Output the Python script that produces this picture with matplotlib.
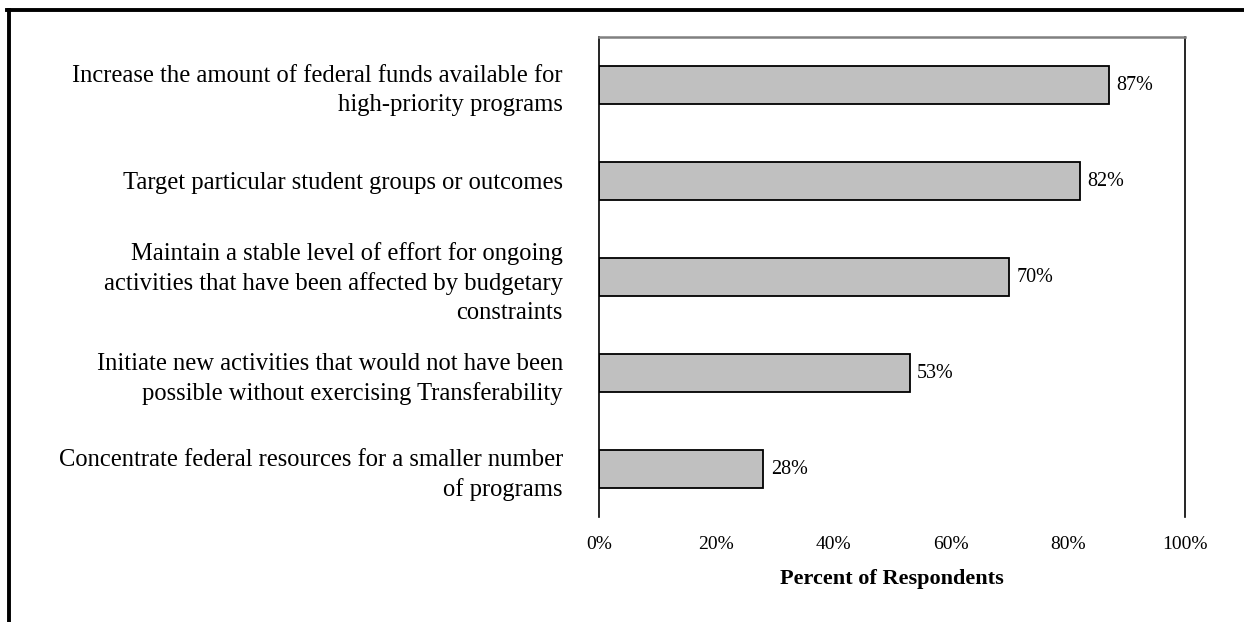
import numpy as np
import matplotlib
matplotlib.use("Agg")
import matplotlib.pyplot as plt
import matplotlib.ticker as ticker
from matplotlib.lines import Line2D

plt.rcParams["font.family"] = ["Liberation Serif", "DejaVu Serif"]

categories = [
    "Increase the amount of federal funds available for\nhigh-priority programs",
    "Target particular student groups or outcomes",
    "Maintain a stable level of effort for ongoing\nactivities that have been affected by budgetary\nconstraints",
    "Initiate new activities that would not have been\npossible without exercising Transferability",
    "Concentrate federal resources for a smaller number\nof programs",
]
percents = [87, 82, 70, 53, 28]
x_ticks = [0, 20, 40, 60, 80, 100]
x_label = "Percent of Respondents"

fig = plt.figure(figsize=(12.44, 6.22), dpi=100)
ax = fig.add_axes([599 / 1244, 1 - 517 / 622, (1185 - 599) / 1244, (517 - 37) / 622])

y = np.arange(len(categories))
ax.barh(y, percents, height=0.4, color="#C0C0C0", edgecolor="black", linewidth=1.3)

for yi, v in zip(y, percents):
    ax.text(v + 1.3, yi, f"{v}%", va="center", ha="left", fontsize=14.5)

ax.set_xlim(0, 100)
ax.set_ylim(len(categories) - 0.5, -0.5)
ax.set_xticks(x_ticks)
ax.xaxis.set_major_formatter(ticker.FuncFormatter(lambda v, p: f"{v:.0f}%"))
ax.set_yticks(y)
ax.set_yticklabels(categories, fontsize=17.7, linespacing=1.4)
ax.tick_params(axis="y", length=0, pad=26)
ax.tick_params(axis="x", length=0, pad=14, labelsize=14)
ax.set_xlabel(x_label, fontsize=16, fontweight="bold", labelpad=11)

ax.spines["bottom"].set_visible(False)
ax.spines["top"].set_color("#808080")
ax.spines["top"].set_linewidth(1.8)
ax.spines["left"].set_linewidth(1.2)
ax.spines["right"].set_linewidth(1.2)

# outer frame (top and left only)
fig.add_artist(Line2D([7.5 / 1244, 1], [1 - 9.5 / 622] * 2, color="black", lw=2.8,
                      transform=fig.transFigure))
fig.add_artist(Line2D([8.5 / 1244] * 2, [0, 1 - 9.5 / 622], color="black", lw=2.8,
                      transform=fig.transFigure))

fig.savefig("out.png", dpi=100)
